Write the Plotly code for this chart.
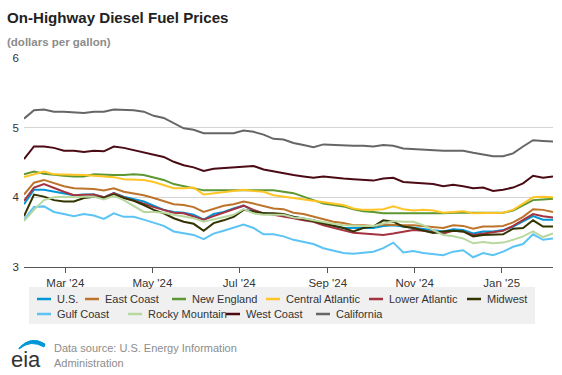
import pandas as pd
import plotly.graph_objects as go

# ---------------- data ----------------
start_date = "2024-02-01"
n_weeks = 54
dates = pd.date_range(start_date, periods=n_weeks, freq="7D")

series_names = ["U.S.", "East Coast", "New England", "Central Atlantic", "Lower Atlantic",
                "Midwest", "Gulf Coast", "Rocky Mountain", "West Coast", "California"]

us = [3.90, 4.11, 4.11, 4.08, 4.06, 4.03, 4.04, 4.04, 4.00, 4.06, 4.01, 3.97, 3.94, 3.88, 3.82,
      3.79, 3.78, 3.75, 3.68, 3.76, 3.79, 3.84, 3.88, 3.81, 3.77, 3.76, 3.75, 3.72, 3.70, 3.67,
      3.63, 3.59, 3.56, 3.56, 3.56, 3.56, 3.59, 3.60, 3.58, 3.56, 3.54, 3.53, 3.51, 3.54, 3.53,
      3.48, 3.51, 3.51, 3.53, 3.58, 3.65, 3.73, 3.68, 3.68]
east_coast = [4.04, 4.21, 4.25, 4.20, 4.16, 4.13, 4.13, 4.12, 4.10, 4.13, 4.08, 4.06, 4.03, 3.99, 3.94,
              3.90, 3.89, 3.86, 3.79, 3.84, 3.88, 3.90, 3.94, 3.91, 3.88, 3.84, 3.83, 3.78, 3.76, 3.72,
              3.68, 3.65, 3.63, 3.60, 3.60, 3.59, 3.61, 3.60, 3.60, 3.60, 3.59, 3.58, 3.56, 3.60, 3.59,
              3.55, 3.58, 3.58, 3.59, 3.64, 3.72, 3.83, 3.82, 3.79]
new_england = [4.33, 4.37, 4.34, 4.32, 4.31, 4.30, 4.30, 4.33, 4.32, 4.32, 4.32, 4.33, 4.32, 4.29, 4.25,
               4.19, 4.16, 4.13, 4.10, 4.10, 4.10, 4.11, 4.11, 4.11, 4.11, 4.10, 4.08, 4.06, 4.01, 3.96,
               3.91, 3.89, 3.87, 3.83, 3.80, 3.79, 3.77, 3.77, 3.77, 3.76, 3.76, 3.76, 3.77, 3.78, 3.78,
               3.77, 3.77, 3.77, 3.78, 3.81, 3.88, 3.96, 3.97, 3.98]
central_atlantic = [4.29, 4.33, 4.37, 4.33, 4.33, 4.33, 4.32, 4.31, 4.30, 4.29, 4.26, 4.26, 4.25, 4.22, 4.17,
                    4.13, 4.13, 4.14, 4.04, 4.06, 4.07, 4.10, 4.11, 4.09, 4.08, 4.03, 4.01, 3.98, 3.96, 3.94,
                    3.92, 3.90, 3.89, 3.84, 3.82, 3.82, 3.83, 3.87, 3.83, 3.81, 3.82, 3.81, 3.78, 3.79, 3.80,
                    3.77, 3.77, 3.77, 3.78, 3.82, 3.91, 4.00, 4.01, 4.00]
lower_atlantic = [3.95, 4.14, 4.19, 4.13, 4.08, 4.03, 4.04, 4.04, 4.00, 4.06, 4.00, 3.96, 3.91, 3.86, 3.82,
                  3.78, 3.77, 3.72, 3.68, 3.73, 3.78, 3.82, 3.88, 3.82, 3.77, 3.75, 3.73, 3.70, 3.67, 3.65,
                  3.60, 3.56, 3.53, 3.49, 3.48, 3.47, 3.46, 3.48, 3.51, 3.53, 3.52, 3.50, 3.48, 3.52, 3.51,
                  3.46, 3.48, 3.49, 3.52, 3.59, 3.67, 3.76, 3.73, 3.71]
midwest = [3.73, 4.04, 4.01, 3.96, 3.94, 3.94, 3.99, 4.01, 3.99, 4.04, 3.99, 3.95, 3.89, 3.82, 3.77,
           3.70, 3.65, 3.62, 3.52, 3.63, 3.67, 3.72, 3.82, 3.79, 3.77, 3.77, 3.76, 3.72, 3.69, 3.65,
           3.63, 3.59, 3.56, 3.51, 3.56, 3.58, 3.67, 3.65, 3.58, 3.56, 3.53, 3.49, 3.51, 3.52, 3.51,
           3.44, 3.46, 3.46, 3.47, 3.55, 3.56, 3.67, 3.58, 3.58]
gulf_coast = [3.68, 3.86, 3.87, 3.79, 3.76, 3.73, 3.76, 3.74, 3.69, 3.77, 3.72, 3.72, 3.68, 3.64, 3.59,
              3.51, 3.49, 3.46, 3.40, 3.48, 3.52, 3.57, 3.61, 3.56, 3.47, 3.47, 3.44, 3.39, 3.36, 3.33,
              3.27, 3.23, 3.20, 3.19, 3.20, 3.22, 3.27, 3.35, 3.21, 3.23, 3.20, 3.18, 3.17, 3.22, 3.24,
              3.14, 3.20, 3.17, 3.22, 3.29, 3.33, 3.47, 3.39, 3.41]
rocky_mountain = [3.66, 3.82, 3.96, 4.00, 4.01, 4.00, 4.01, 4.01, 3.97, 4.02, 3.96, 3.87, 3.79, 3.79, 3.78,
                  3.75, 3.72, 3.70, 3.65, 3.68, 3.71, 3.75, 3.83, 3.77, 3.75, 3.75, 3.75, 3.71, 3.70, 3.67,
                  3.64, 3.62, 3.60, 3.59, 3.59, 3.59, 3.63, 3.66, 3.65, 3.65, 3.60, 3.53, 3.46, 3.44, 3.41,
                  3.34, 3.36, 3.34, 3.35, 3.39, 3.44, 3.51, 3.43, 3.48]
west_coast = [4.55, 4.73, 4.73, 4.71, 4.67, 4.67, 4.65, 4.67, 4.66, 4.73, 4.71, 4.68, 4.64, 4.61, 4.58,
              4.51, 4.46, 4.43, 4.38, 4.41, 4.42, 4.44, 4.45, 4.45, 4.40, 4.37, 4.35, 4.32, 4.30, 4.28,
              4.30, 4.28, 4.27, 4.26, 4.25, 4.24, 4.27, 4.28, 4.22, 4.21, 4.20, 4.19, 4.16, 4.18, 4.16,
              4.13, 4.14, 4.09, 4.11, 4.14, 4.20, 4.31, 4.28, 4.30]
california = [5.13, 5.25, 5.26, 5.23, 5.23, 5.22, 5.21, 5.23, 5.23, 5.26, 5.26, 5.25, 5.23, 5.17, 5.14,
              5.06, 4.99, 4.97, 4.92, 4.92, 4.92, 4.92, 4.96, 4.94, 4.90, 4.84, 4.83, 4.78, 4.75, 4.72,
              4.76, 4.75, 4.75, 4.74, 4.74, 4.73, 4.75, 4.74, 4.70, 4.69, 4.69, 4.68, 4.67, 4.67, 4.67,
              4.64, 4.61, 4.59, 4.59, 4.63, 4.73, 4.82, 4.81, 4.80]

series_values = [us, east_coast, new_england, central_atlantic, lower_atlantic,
                 midwest, gulf_coast, rocky_mountain, west_coast, california]

y_ticks = [3, 4, 5, 6]

# ---------------- styling ----------------
colors = ["#0096d7", "#bd732a", "#5d9732", "#ffc425", "#a33340",
          "#333300", "#5bc4f5", "#b9d89f", "#4b0a14", "#666666"]

W, H = 562, 375
L, R, T, B = 24, 553, 58, 267  # plot area in pixels


def px(x):
    return (x - L) / (R - L)


def py(y):
    return 1 - (y - T) / (B - T)


fig = go.Figure()
for name, vals, col in zip(series_names, series_values, colors):
    fig.add_trace(go.Scatter(x=dates, y=vals, name=name, mode="lines",
                             line=dict(color=col, width=2), showlegend=False,
                             hoverinfo="skip"))

fig.update_layout(
    width=W, height=H,
    margin=dict(l=L, r=W - R, t=T, b=H - B),
    paper_bgcolor="white", plot_bgcolor="white",
    font=dict(family="Liberation Sans, Arial, sans-serif", color="#333333", size=11),
    xaxis=dict(type="date", range=[dates[0], dates[-1]],
               tick0="2024-03-01", dtick="M2", tickformat="%b '%y",
               showgrid=False, showline=True, linecolor="#555555", linewidth=1,
               ticks="outside", ticklen=5, tickcolor="#555555",
               tickfont=dict(size=11.5, color="#333333"), zeroline=False),
    yaxis=dict(range=[3, 6], tickvals=y_ticks, showgrid=True, gridcolor="#d4d4d4",
               gridwidth=1, showline=False, zeroline=False, ticks="",
               tickfont=dict(size=11.5, color="#333333"), ticklabelstandoff=4),
)

ann = []
shapes = []
# title & subtitle
ann.append(dict(text="<b>On-Highway Diesel Fuel Prices</b>", x=px(5), y=py(18),
                xref="paper", yref="paper", xanchor="left", yanchor="middle",
                showarrow=False, font=dict(size=15.1, color="#222222")))
ann.append(dict(text="<b>(dollars per gallon)</b>", x=px(5), y=py(42),
                xref="paper", yref="paper", xanchor="left", yanchor="middle",
                showarrow=False, font=dict(size=11.5, color="#8c8c8c")))

# legend (custom)
shapes.append(dict(type="rect", xref="paper", yref="paper",
                   x0=px(29), x1=px(535), y0=py(287), y1=py(324),
                   fillcolor="#f0f0f0", line=dict(width=0), layer="below"))
legend_rows = [299, 314]
legend_dash_x = [37, 85, 172, 266, 369, 467, 37, 128, 226, 316]
legend_row_idx = [0, 0, 0, 0, 0, 0, 1, 1, 1, 1]
for name, col, dx, ri in zip(series_names, colors, legend_dash_x, legend_row_idx):
    yy = legend_rows[ri]
    shapes.append(dict(type="line", xref="paper", yref="paper",
                       x0=px(dx), x1=px(dx + 14), y0=py(yy), y1=py(yy),
                       line=dict(color=col, width=2.5)))
    ann.append(dict(text=name, x=px(dx + 18), y=py(yy), xref="paper", yref="paper",
                    xanchor="left", yanchor="middle", showarrow=False,
                    font=dict(size=11, color="#333333")))

# eia logo + source
ann.append(dict(text="eia", x=px(9), y=py(359), xref="paper", yref="paper",
                xanchor="left", yanchor="middle", showarrow=False,
                font=dict(size=22, color="#333333", family="Liberation Sans, Arial")))
shapes.append(dict(type="path", xref="paper", yref="paper",
                   path=f"M {px(19)},{py(348)} Q {px(31)},{py(335)} {px(45)},{py(344)} "
                        f"L {px(44)},{py(347)} Q {px(31)},{py(339)} {px(19)},{py(349)} Z",
                   fillcolor="#0096d7", line=dict(color="#0096d7", width=1)))
ann.append(dict(text="Data source: U.S. Energy Information", x=px(52), y=py(348),
                xref="paper", yref="paper", xanchor="left", yanchor="middle",
                showarrow=False, font=dict(size=11, color="#8c8c8c")))
ann.append(dict(text="Administration", x=px(52), y=py(363),
                xref="paper", yref="paper", xanchor="left", yanchor="middle",
                showarrow=False, font=dict(size=11, color="#8c8c8c")))

fig.update_layout(annotations=ann, shapes=shapes)
fig.write_html("out.html", config={"displayModeBar": False, "staticPlot": True},
               post_script="document.body.style.margin='0';document.body.style.overflow='hidden';")
